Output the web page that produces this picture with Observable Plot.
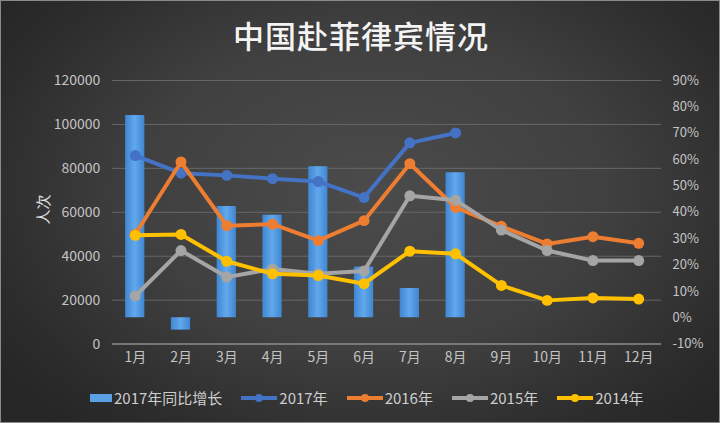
<!DOCTYPE html>
<html>
<head>
<meta charset="utf-8">
<script src="https://cdn.jsdelivr.net/npm/d3@7"></script>
<script src="https://cdn.jsdelivr.net/npm/@observablehq/plot@0.6"></script>
<style>
  html, body { margin: 0; padding: 0; background: #2a2a2a; }
  #wrap {
    position: relative; width: 720px; height: 423px; overflow: hidden; box-sizing: border-box;
    border: 1px solid #8a8a8a;
    background: radial-gradient(ellipse 65% 75% at 52% 45%, #4b4b4b 0%, #404040 50%, #2c2c2c 85%, #262626 100%);
    font-family: "Noto Sans CJK SC", "Noto Sans", sans-serif;
  }
  #title {
    position: absolute; top: 11px; left: 0; width: 720px; text-align: center;
    color: #f4f4f4; font-size: 31px; letter-spacing: 1px; font-weight: 500;
  }
  #chart { position: absolute; top: 59px; left: -1px; }
  #ylab {
    position: absolute; left: 26px; top: 198px; color: #e0e0e0; font-size: 15px;
    transform: rotate(-90deg); transform-origin: center;
  }
  #legend {
    position: absolute; top: 386px; left: 88px; display: flex; align-items: center;
    color: #cdcdcd; font-size: 15px; white-space: nowrap;
  }
  #legend .item { display: flex; align-items: center; margin-right: 18px; }
  #legend svg { margin-right: 1px; display: block; }
</style>
</head>
<body>
<div id="wrap">
  <div id="title">中国赴菲律宾情况</div>
  <div id="chart"></div>
  <div id="ylab">人次</div>
  <div id="legend"></div>
</div>
<script>
const months = ["1月","2月","3月","4月","5月","6月","7月","8月","9月","10月","11月","12月"];
const growth2017 = [76.7, -4.7, 42.2, 38.9, 57.3, 19.2, 11.1, 55.0];
const v2017 = [85800, 77800, 76800, 75300, 74000, 66700, 91600, 96100];
const v2016 = [50000, 82900, 53900, 54600, 47100, 56200, 82100, 62200, 53600, 45600, 48900, 45900];
const v2015 = [21900, 42600, 30500, 34200, 32000, 33300, 67500, 65500, 51900, 42600, 38000, 38000];
const v2014 = [49500, 49900, 37700, 32000, 31200, 27500, 42300, 41100, 26700, 19900, 21000, 20500];
const leftTicks = [0, 20000, 40000, 60000, 80000, 100000, 120000];
const rightTicks = [-10, 0, 10, 20, 30, 40, 50, 60, 70, 80, 90];
const seriesNames = ["2017年同比增长", "2017年", "2016年", "2015年", "2014年"];
const colors = ["#5aa0e6", "#4472C4", "#ED7D31", "#A5A5A5", "#FFC000"];

// right axis (percent) mapped onto left axis domain: -10% -> 0, 90% -> 120000
const pctToLeft = p => (p + 10) * 1200;

const barData = growth2017.map((g, i) => ({month: months[i], g}));
const lineSeries = [v2017, v2016, v2015, v2014].map((vals, k) => ({
  name: seriesNames[k + 1],
  color: colors[k + 1],
  data: vals.map((v, i) => ({month: months[i], v}))
}));

const defs = () => {
  const d = d3.create("svg:defs");
  const g = d.append("linearGradient").attr("id", "barGrad").attr("x1", 0).attr("x2", 1).attr("y1", 0).attr("y2", 0);
  g.append("stop").attr("offset", "0%").attr("stop-color", "#3f86d2");
  g.append("stop").attr("offset", "50%").attr("stop-color", "#62a8ec");
  g.append("stop").attr("offset", "100%").attr("stop-color", "#3f86d2");
  return d.node();
};

const marks = [
  defs,
  Plot.ruleY(leftTicks.filter(t => t > 0), {stroke: "#676767", strokeWidth: 1}),
  Plot.ruleY([0], {stroke: "#8d8d8d", strokeWidth: 1.5}),
  Plot.barY(barData, {x: "month", y1: pctToLeft(0), y2: d => pctToLeft(d.g), fill: "url(#barGrad)"}),
];
for (const s of lineSeries) {
  marks.push(Plot.lineY(s.data, {x: "month", y: "v", stroke: s.color, strokeWidth: 4, strokeLinejoin: "round", strokeLinecap: "round"}));
  marks.push(Plot.dot(s.data, {x: "month", y: "v", r: 5.5, fill: s.color, stroke: "none"}));
}
marks.push(
  Plot.axisY({ticks: leftTicks, tickFormat: d => String(d), tickSize: 0, tickPadding: 12, fontSize: 14, label: null, color: "#c4c4c4"}),
  Plot.axisY({anchor: "right", ticks: rightTicks.map(pctToLeft), tickFormat: d => `${Math.round(d / 1200 - 10)}%`, tickSize: 0, tickPadding: 11, fontSize: 13, label: null, color: "#c4c4c4"}),
  Plot.axisX({tickSize: 0, tickPadding: 8, fontSize: 14, label: null, color: "#c4c4c4"})
);

const plot = Plot.plot({
  width: 720,
  height: 320,
  marginLeft: 112,
  marginRight: 58,
  marginTop: 20,
  marginBottom: 36,
  style: {background: "transparent", color: "#c4c4c4", fontFamily: "'Noto Sans CJK SC', sans-serif"},
  x: {domain: months, paddingInner: 0.58, paddingOuter: 0.29, round: false, label: null},
  y: {domain: [0, 120000], label: null},
  marks
});
document.getElementById("chart").appendChild(plot);

// legend
const legend = document.getElementById("legend");
seriesNames.forEach((name, k) => {
  const item = document.createElement("div");
  item.className = "item";
  let sw;
  if (k === 0) {
    sw = `<svg width="24" height="14"><rect x="1" y="3" width="22" height="8" fill="${colors[0]}"/></svg>`;
  } else {
    sw = `<svg width="38" height="14"><line x1="1" y1="7" x2="37" y2="7" stroke="${colors[k]}" stroke-width="4"/><circle cx="19" cy="7" r="4" fill="${colors[k]}"/></svg>`;
  }
  item.innerHTML = sw + `<span>${name}</span>`;
  legend.appendChild(item);
});
</script>
</body>
</html>
